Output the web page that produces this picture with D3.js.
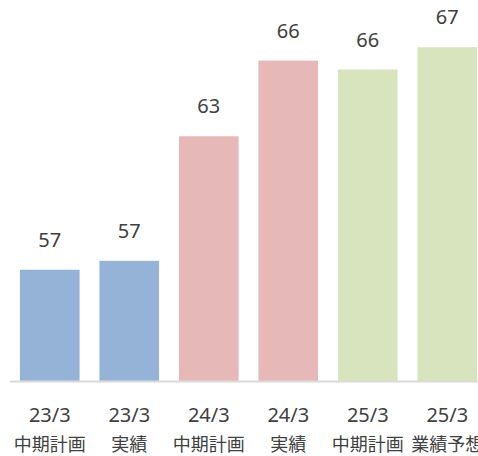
<!DOCTYPE html>
<html>
<head>
<meta charset="utf-8">
<script src="https://cdn.jsdelivr.net/npm/d3@7"></script>
<style>
  body { margin: 0; background: #fff; overflow: hidden; }
  svg { display: block; font-family: "Noto Sans", "Noto Sans CJK JP", sans-serif; }
</style>
</head>
<body>
<div id="chart"></div>
<script>
// data
const periods = ["23/3", "23/3", "24/3", "24/3", "25/3", "25/3"];
const kinds = ["中期計画", "実績", "中期計画", "実績", "中期計画", "業績予想"];
const values = [57.0, 57.4, 63.0, 66.4, 66.0, 67.0];
const colors = ["#95b3d7", "#95b3d7", "#e6b9b8", "#e6b9b8", "#d7e4bd", "#d7e4bd"];

const width = 478, height = 456;
const baseY = 381;

const svg = d3.select("#chart")
  .append("svg")
  .attr("width", width)
  .attr("height", height);

const x = d3.scaleBand()
  .domain(d3.range(values.length))
  .range([10, 487])
  .paddingInner(0.25)
  .paddingOuter(0.125);

const y = d3.scaleLinear()
  .domain([52, 67])
  .range([baseY, 47.25]);

svg.append("g")
  .selectAll("rect")
  .data(values)
  .enter()
  .append("rect")
  .attr("x", (d, i) => x(i))
  .attr("y", d => y(d))
  .attr("width", x.bandwidth())
  .attr("height", d => baseY - y(d))
  .style("fill", (d, i) => colors[i]);

// axis line
svg.append("line")
  .attr("x1", 10)
  .attr("x2", width)
  .attr("y1", baseY + 0.5)
  .attr("y2", baseY + 0.5)
  .style("stroke", "#d9d9d9")
  .style("stroke-width", 2);

// value labels
svg.append("g")
  .selectAll("text")
  .data(values)
  .enter()
  .append("text")
  .attr("x", (d, i) => x(i) + x.bandwidth() / 2)
  .attr("y", d => y(d) - 23)
  .attr("text-anchor", "middle")
  .style("font-size", "20px")
  .style("fill", "#404040")
  .text(d => Math.round(d));

// category labels, two lines
const cats = svg.append("g")
  .selectAll("g")
  .data(periods)
  .enter()
  .append("g")
  .attr("transform", (d, i) => "translate(" + (x(i) + x.bandwidth() / 2) + ",0)");

cats.append("text")
  .attr("y", 422)
  .attr("text-anchor", "middle")
  .style("font-size", "20px")
  .style("fill", "#404040")
  .text(d => d);

cats.append("text")
  .attr("y", 451)
  .attr("text-anchor", "middle")
  .style("font-family", "'Noto Sans CJK JP', sans-serif")
  .style("font-size", "18px")
  .style("fill", "#404040")
  .text((d, i) => kinds[i]);
</script>
</body>
</html>
